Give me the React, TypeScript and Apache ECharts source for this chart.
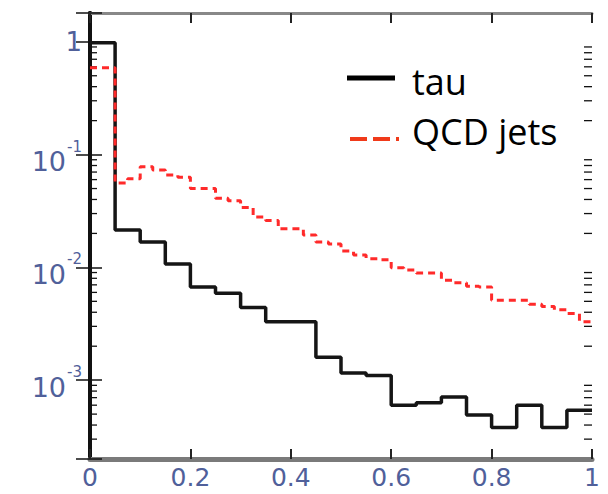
import React, { useEffect, useRef } from "react";
import * as echarts from "echarts";

// Bin widths of the two histograms (x runs from 0 to 1)
const TAU_BIN = 0.05;
const QCD_BIN = 0.025;

// Normalised bin contents, tau candidates (20 bins)
const tauValues = [
  0.98, 0.0215, 0.0168, 0.0107, 0.0067, 0.0059, 0.0044, 0.0033, 0.0033, 0.0016,
  0.00116, 0.0011, 0.0006, 0.00063, 0.00071, 0.00049, 0.00038, 0.0006, 0.00038, 0.00054,
];

// Normalised bin contents, QCD jets (40 bins)
const qcdValues = [
  0.59, 0.59, 0.056, 0.061, 0.078, 0.073, 0.066, 0.063, 0.05, 0.05,
  0.041, 0.039, 0.034, 0.028, 0.026, 0.022, 0.022, 0.0194, 0.0168, 0.0161,
  0.014, 0.0129, 0.0119, 0.0117, 0.0099, 0.0095, 0.0089, 0.0089, 0.0077, 0.0073,
  0.0068, 0.0067, 0.0051, 0.0051, 0.0051, 0.0047, 0.0045, 0.0042, 0.0039, 0.0033,
];

// Axis ranges
const X_MIN = 0;
const X_MAX = 1;
const Y_MIN = 2e-4;
const Y_MAX = 1.8;

// Legend entries
const seriesNames = ["tau", "QCD jets"];

const LABEL_COLOR = "#50609a";
const LABEL_FONT = "DejaVu Sans";

// Left-edge points of each bin plus the closing edge, drawn as an "end" step line
function toSteps(values: number[], width: number): number[][] {
  const pts = values.map((v, i) => [i * width, v]);
  pts.push([X_MAX, values[values.length - 1]]);
  return pts;
}

// Minor log ticks: 2..9 times each decade inside the y range
const minorTickValues: number[] = [];
for (let d = -4; d <= 0; d++) {
  for (let m = 2; m <= 9; m++) {
    const v = m * Math.pow(10, d);
    if (v > Y_MIN && v < Y_MAX) minorTickValues.push(v);
  }
}

function yLabel(v: number): string {
  const e = Math.log10(v);
  const r = Math.round(e);
  if (Math.abs(e - r) > 1e-6) return "";
  if (r === 0) return "{one|1}";
  return "{b|10}{s|" + r + "}";
}

export default function App() {
  const ref = useRef<HTMLDivElement>(null);

  useEffect(() => {
    const chart = echarts.init(ref.current!, null, { renderer: "svg" });

    const xTick = { show: true, inside: true, length: 10, lineStyle: { color: "#222", width: 2 } };

    chart.setOption({
      animation: false,
      backgroundColor: "#fff",
      grid: { left: 90, right: 16, top: 13, bottom: 35, outerBoundsMode: "none" },
      xAxis: [
        {
          type: "value",
          position: "bottom",
          min: X_MIN,
          max: X_MAX,
          interval: 0.2,
          axisLine: { show: true, lineStyle: { color: "#7a7a7a", width: 5 } },
          axisTick: xTick,
          axisLabel: {
            margin: 6,
            fontFamily: LABEL_FONT,
            fontSize: 25,
            color: LABEL_COLOR,
          },
          splitLine: { show: false },
        },
        {
          type: "value",
          position: "top",
          min: X_MIN,
          max: X_MAX,
          interval: 0.2,
          axisLine: { show: true, lineStyle: { color: "#888", width: 3 } },
          axisTick: xTick,
          axisLabel: { show: false },
          splitLine: { show: false },
        },
      ],
      yAxis: [
        {
          type: "log",
          logBase: 10,
          min: Y_MIN,
          max: Y_MAX,
          axisLine: { show: true, lineStyle: { color: "#111", width: 4 } },
          axisTick: { show: true, inside: true, length: 12, lineStyle: { color: "#111", width: 1.5 } },
          axisLabel: {
            margin: 8,
            formatter: yLabel,
            fontFamily: LABEL_FONT,
            color: LABEL_COLOR,
            rich: {
              one: { fontFamily: LABEL_FONT, fontSize: 26, color: LABEL_COLOR },
              b: { fontFamily: LABEL_FONT, fontSize: 27, color: LABEL_COLOR, padding: [14, 0, 0, 0] },
              s: { fontFamily: LABEL_FONT, fontSize: 15, color: LABEL_COLOR, padding: [0, 0, 16, 1] },
            },
          },
          splitLine: { show: false },
        },
        {
          type: "log",
          logBase: 10,
          position: "right",
          min: Y_MIN,
          max: Y_MAX,
          axisLine: { show: true, lineStyle: { color: "#111", width: 4 } },
          axisTick: { show: true, inside: true, length: 14, lineStyle: { color: "#111", width: 1.5 } },
          axisLabel: { show: false },
          splitLine: { show: false },
        },
      ],
      series: [
        {
          type: "custom",
          name: "minor ticks",
          xAxisIndex: 0,
          yAxisIndex: 0,
          silent: true,
          clip: false,
          z: 1,
          data: minorTickValues.map((v) => [X_MIN, v]),
          renderItem: (_params: any, api: any) => {
            const v = api.value(1);
            const l = api.coord([X_MIN, v]);
            const r = api.coord([X_MAX, v]);
            return {
              type: "group",
              children: [
                {
                  type: "line",
                  shape: { x1: l[0], y1: l[1], x2: l[0] + 7, y2: l[1] },
                  style: { stroke: "#111", lineWidth: 1.3 },
                },
                {
                  type: "line",
                  shape: { x1: r[0], y1: r[1], x2: r[0] - 8, y2: r[1] },
                  style: { stroke: "#111", lineWidth: 1.3 },
                },
              ],
            };
          },
        },
        {
          type: "line",
          name: seriesNames[0],
          xAxisIndex: 0,
          yAxisIndex: 0,
          data: toSteps(tauValues, TAU_BIN),
          step: "end",
          symbol: "none",
          z: 3,
          lineStyle: { color: "#151515", width: 3.5 },
        },
        {
          type: "line",
          name: seriesNames[1],
          xAxisIndex: 0,
          yAxisIndex: 0,
          data: toSteps(qcdValues, QCD_BIN),
          step: "end",
          symbol: "none",
          z: 4,
          lineStyle: { color: "#ff2a2a", width: 3, type: [7, 5] },
        },
      ],
      graphic: [
        {
          type: "line",
          shape: { x1: 347, y1: 78, x2: 395, y2: 78 },
          style: { stroke: "#000", lineWidth: 5 },
          z: 10,
        },
        {
          type: "text",
          x: 412,
          y: 81,
          style: {
            text: seriesNames[0],
            font: '36px "Open Sans"',
            fill: "#000",
            verticalAlign: "middle",
          },
          z: 10,
        },
        {
          type: "line",
          shape: { x1: 350, y1: 139, x2: 399, y2: 139 },
          style: { stroke: "#f03a1a", lineWidth: 4, lineDash: [17, 6] },
          z: 10,
        },
        {
          type: "text",
          x: 412,
          y: 131,
          style: {
            text: seriesNames[1],
            font: '36px "Open Sans"',
            fill: "#000",
            verticalAlign: "middle",
          },
          z: 10,
        },
      ],
    });

    return () => chart.dispose();
  }, []);

  return (
    <div
      ref={ref}
      style={{ position: "fixed", left: 0, top: 0, width: 608, height: 494, background: "#fff" }}
    />
  );
}
